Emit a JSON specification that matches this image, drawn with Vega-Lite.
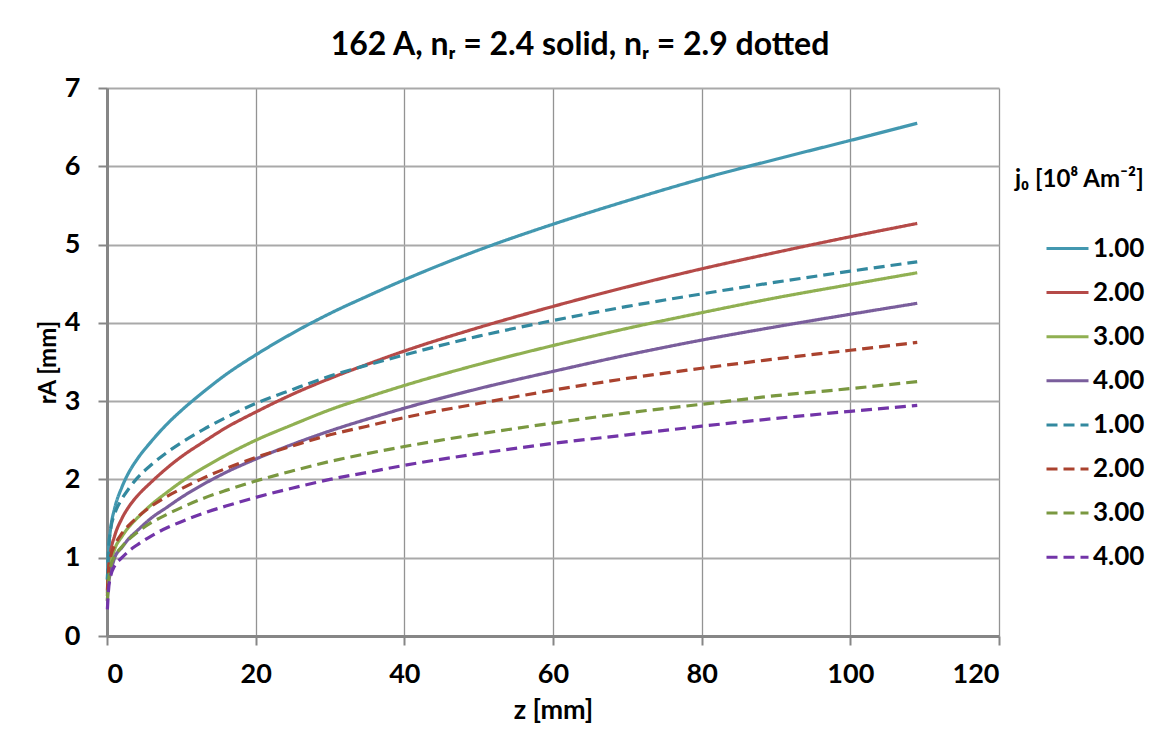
{
  "$schema": "https://vega.github.io/schema/vega-lite/v6.json",
  "width": 892,
  "height": 548,
  "autosize": {"type": "none"},
  "padding": {"left": 107, "top": 88, "right": 159, "bottom": 109},
  "background": "white",
  "config": {"view": {"stroke": null}, "font": "Lato"},
  "title": {"text": "162 A, nᵣ = 2.4 solid, nᵣ = 2.9 dotted", "fontSize": 32, "font": "Lato", "fontWeight": "bold", "color": "black", "offset": 12, "dx": 27},
  "datasets": {
    "curves": [
      {"s":"S1","z":0.05,"r":0.72},{"s":"S1","z":0.2,"r":1.08},{"s":"S1","z":0.5,"r":1.38},{"s":"S1","z":1,"r":1.62},{"s":"S1","z":2,"r":1.90},{"s":"S1","z":3,"r":2.10},{"s":"S1","z":4,"r":2.25},{"s":"S1","z":6,"r":2.49},{"s":"S1","z":8,"r":2.70},{"s":"S1","z":10,"r":2.88},{"s":"S1","z":13,"r":3.12},{"s":"S1","z":16,"r":3.34},{"s":"S1","z":20,"r":3.59},{"s":"S1","z":25,"r":3.87},{"s":"S1","z":30,"r":4.12},{"s":"S1","z":35,"r":4.34},{"s":"S1","z":40,"r":4.55},{"s":"S1","z":50,"r":4.93},{"s":"S1","z":60,"r":5.26},{"s":"S1","z":70,"r":5.56},{"s":"S1","z":80,"r":5.84},{"s":"S1","z":90,"r":6.09},{"s":"S1","z":100,"r":6.33},{"s":"S1","z":109,"r":6.55},
      {"s":"S2","z":0.05,"r":0.51},{"s":"S2","z":0.2,"r":0.82},{"s":"S2","z":0.5,"r":1.08},{"s":"S2","z":1,"r":1.27},{"s":"S2","z":2,"r":1.50},{"s":"S2","z":3,"r":1.66},{"s":"S2","z":4,"r":1.78},{"s":"S2","z":6,"r":1.97},{"s":"S2","z":8,"r":2.14},{"s":"S2","z":10,"r":2.29},{"s":"S2","z":13,"r":2.48},{"s":"S2","z":16,"r":2.66},{"s":"S2","z":20,"r":2.86},{"s":"S2","z":25,"r":3.09},{"s":"S2","z":30,"r":3.29},{"s":"S2","z":35,"r":3.47},{"s":"S2","z":40,"r":3.64},{"s":"S2","z":50,"r":3.94},{"s":"S2","z":60,"r":4.21},{"s":"S2","z":70,"r":4.46},{"s":"S2","z":80,"r":4.69},{"s":"S2","z":90,"r":4.90},{"s":"S2","z":100,"r":5.10},{"s":"S2","z":109,"r":5.27},
      {"s":"S3","z":0.05,"r":0.55},{"s":"S3","z":0.2,"r":0.75},{"s":"S3","z":0.5,"r":0.92},{"s":"S3","z":1,"r":1.10},{"s":"S3","z":2,"r":1.27},{"s":"S3","z":3,"r":1.40},{"s":"S3","z":4,"r":1.50},{"s":"S3","z":6,"r":1.68},{"s":"S3","z":8,"r":1.83},{"s":"S3","z":10,"r":1.97},{"s":"S3","z":13,"r":2.15},{"s":"S3","z":16,"r":2.31},{"s":"S3","z":20,"r":2.50},{"s":"S3","z":25,"r":2.70},{"s":"S3","z":30,"r":2.89},{"s":"S3","z":35,"r":3.05},{"s":"S3","z":40,"r":3.20},{"s":"S3","z":50,"r":3.47},{"s":"S3","z":60,"r":3.71},{"s":"S3","z":70,"r":3.93},{"s":"S3","z":80,"r":4.13},{"s":"S3","z":90,"r":4.32},{"s":"S3","z":100,"r":4.49},{"s":"S3","z":109,"r":4.64},
      {"s":"S4","z":0.05,"r":0.45},{"s":"S4","z":0.2,"r":0.66},{"s":"S4","z":0.5,"r":0.81},{"s":"S4","z":1,"r":0.99},{"s":"S4","z":2,"r":1.13},{"s":"S4","z":3,"r":1.25},{"s":"S4","z":4,"r":1.34},{"s":"S4","z":6,"r":1.51},{"s":"S4","z":8,"r":1.64},{"s":"S4","z":10,"r":1.77},{"s":"S4","z":13,"r":1.94},{"s":"S4","z":16,"r":2.09},{"s":"S4","z":20,"r":2.26},{"s":"S4","z":25,"r":2.45},{"s":"S4","z":30,"r":2.62},{"s":"S4","z":35,"r":2.77},{"s":"S4","z":40,"r":2.91},{"s":"S4","z":50,"r":3.16},{"s":"S4","z":60,"r":3.38},{"s":"S4","z":70,"r":3.59},{"s":"S4","z":80,"r":3.78},{"s":"S4","z":90,"r":3.95},{"s":"S4","z":100,"r":4.11},{"s":"S4","z":109,"r":4.25},
      {"s":"D1","z":0.05,"r":0.72},{"s":"D1","z":0.2,"r":1.08},{"s":"D1","z":0.5,"r":1.37},{"s":"D1","z":1,"r":1.55},{"s":"D1","z":2,"r":1.75},{"s":"D1","z":3,"r":1.89},{"s":"D1","z":4,"r":2.01},{"s":"D1","z":6,"r":2.19},{"s":"D1","z":8,"r":2.34},{"s":"D1","z":10,"r":2.47},{"s":"D1","z":13,"r":2.64},{"s":"D1","z":16,"r":2.79},{"s":"D1","z":20,"r":2.97},{"s":"D1","z":25,"r":3.15},{"s":"D1","z":30,"r":3.32},{"s":"D1","z":35,"r":3.46},{"s":"D1","z":40,"r":3.59},{"s":"D1","z":50,"r":3.83},{"s":"D1","z":60,"r":4.03},{"s":"D1","z":70,"r":4.21},{"s":"D1","z":80,"r":4.37},{"s":"D1","z":90,"r":4.52},{"s":"D1","z":100,"r":4.66},{"s":"D1","z":109,"r":4.78},
      {"s":"D2","z":0.05,"r":0.58},{"s":"D2","z":0.2,"r":0.84},{"s":"D2","z":0.5,"r":1.02},{"s":"D2","z":1,"r":1.15},{"s":"D2","z":2,"r":1.31},{"s":"D2","z":3,"r":1.42},{"s":"D2","z":4,"r":1.51},{"s":"D2","z":6,"r":1.66},{"s":"D2","z":8,"r":1.78},{"s":"D2","z":10,"r":1.88},{"s":"D2","z":13,"r":2.02},{"s":"D2","z":16,"r":2.14},{"s":"D2","z":20,"r":2.28},{"s":"D2","z":25,"r":2.43},{"s":"D2","z":30,"r":2.57},{"s":"D2","z":35,"r":2.68},{"s":"D2","z":40,"r":2.79},{"s":"D2","z":50,"r":2.97},{"s":"D2","z":60,"r":3.14},{"s":"D2","z":70,"r":3.29},{"s":"D2","z":80,"r":3.42},{"s":"D2","z":90,"r":3.54},{"s":"D2","z":100,"r":3.65},{"s":"D2","z":109,"r":3.75},
      {"s":"D3","z":0.05,"r":0.45},{"s":"D3","z":0.2,"r":0.68},{"s":"D3","z":0.5,"r":0.89},{"s":"D3","z":1,"r":1.01},{"s":"D3","z":2,"r":1.14},{"s":"D3","z":3,"r":1.24},{"s":"D3","z":4,"r":1.32},{"s":"D3","z":6,"r":1.45},{"s":"D3","z":8,"r":1.55},{"s":"D3","z":10,"r":1.64},{"s":"D3","z":13,"r":1.76},{"s":"D3","z":16,"r":1.86},{"s":"D3","z":20,"r":1.98},{"s":"D3","z":25,"r":2.11},{"s":"D3","z":30,"r":2.23},{"s":"D3","z":35,"r":2.33},{"s":"D3","z":40,"r":2.42},{"s":"D3","z":50,"r":2.58},{"s":"D3","z":60,"r":2.72},{"s":"D3","z":70,"r":2.85},{"s":"D3","z":80,"r":2.96},{"s":"D3","z":90,"r":3.07},{"s":"D3","z":100,"r":3.16},{"s":"D3","z":109,"r":3.25},
      {"s":"D4","z":0.05,"r":0.34},{"s":"D4","z":0.2,"r":0.58},{"s":"D4","z":0.5,"r":0.77},{"s":"D4","z":1,"r":0.89},{"s":"D4","z":2,"r":1.00},{"s":"D4","z":3,"r":1.09},{"s":"D4","z":4,"r":1.16},{"s":"D4","z":6,"r":1.28},{"s":"D4","z":8,"r":1.38},{"s":"D4","z":10,"r":1.46},{"s":"D4","z":13,"r":1.57},{"s":"D4","z":16,"r":1.66},{"s":"D4","z":20,"r":1.77},{"s":"D4","z":25,"r":1.89},{"s":"D4","z":30,"r":2.00},{"s":"D4","z":35,"r":2.09},{"s":"D4","z":40,"r":2.18},{"s":"D4","z":50,"r":2.33},{"s":"D4","z":60,"r":2.46},{"s":"D4","z":70,"r":2.57},{"s":"D4","z":80,"r":2.68},{"s":"D4","z":90,"r":2.78},{"s":"D4","z":100,"r":2.87},{"s":"D4","z":109,"r":2.945}
    ]
  },
  "data": {"name": "curves"},
  "mark": {"type": "line", "strokeWidth": 3.2, "interpolate": "monotone", "strokeCap": "butt"},
  "encoding": {
    "x": {
      "field": "z", "type": "quantitative",
      "scale": {"domain": [0, 120], "nice": false},
      "axis": {
        "title": "z [mm]", "values": [0, 20, 40, 60, 80, 100, 120], "format": "d",
        "titleFont": "Lato", "titleFontSize": 27, "titleFontWeight": "bold", "titleColor": "black", "titlePadding": 10,
        "labelFont": "Lato", "labelFontSize": 27, "labelFontWeight": "bold", "labelColor": "black", "labelPadding": 16,
        "tickSize": 9, "tickColor": "#868686", "tickWidth": 2,
        "domainColor": "#868686", "domainWidth": 3,
        "grid": true, "gridColor": "#939393", "gridWidth": 1.3
      }
    },
    "y": {
      "field": "r", "type": "quantitative",
      "scale": {"domain": [0, 7], "nice": false},
      "axis": {
        "title": "rA [mm]", "values": [0, 1, 2, 3, 4, 5, 6, 7], "format": "d",
        "titleFont": "Lato", "titleFontSize": 24, "titleFontWeight": "bold", "titleColor": "black", "titlePadding": 4,
        "labelFont": "Lato", "labelFontSize": 27, "labelFontWeight": "bold", "labelColor": "black", "labelPadding": 18,
        "tickSize": 9, "tickColor": "#868686", "tickWidth": 2,
        "domainColor": "#868686", "domainWidth": 3,
        "grid": true, "gridColor": "#a9a9a9", "gridWidth": 2
      }
    },
    "color": {
      "field": "s", "type": "nominal",
      "scale": {
        "domain": ["S1", "S2", "S3", "S4", "D1", "D2", "D3", "D4"],
        "range": ["#4398B0", "#B54A48", "#90B052", "#7A5E9C", "#33899F", "#AA422E", "#7A9840", "#7234A8"]
      },
      "legend": {
        "title": "j₀ [10⁸ Am⁻²]", "orient": "none", "legendX": 908, "legendY": 80,
        "titleFont": "Lato", "titleFontSize": 24, "titleFontWeight": "bold", "titleColor": "black", "titlePadding": 34,
        "labelFont": "Lato", "labelFontSize": 26, "labelFontWeight": "bold", "labelColor": "black",
        "labelExpr": "substring(datum.label, 1) + '.00'",
        "symbolType": "stroke", "symbolSize": 1764, "symbolStrokeWidth": 3, "symbolOffset": 30,
        "rowPadding": 8.1, "labelOffset": 3
      }
    },
    "strokeDash": {
      "field": "s", "type": "nominal",
      "scale": {
        "domain": ["S1", "S2", "S3", "S4", "D1", "D2", "D3", "D4"],
        "range": [[1, 0], [1, 0], [1, 0], [1, 0], [11, 6], [11, 6], [11, 6], [11, 6]]
      },
      "legend": {
        "title": "j₀ [10⁸ Am⁻²]", "orient": "none", "legendX": 908, "legendY": 80,
        "titleFont": "Lato", "titleFontSize": 24, "titleFontWeight": "bold", "titleColor": "black", "titlePadding": 34,
        "labelFont": "Lato", "labelFontSize": 26, "labelFontWeight": "bold", "labelColor": "black",
        "labelExpr": "substring(datum.label, 1) + '.00'",
        "symbolType": "stroke", "symbolSize": 1764, "symbolStrokeWidth": 3, "symbolOffset": 30,
        "rowPadding": 8.1, "labelOffset": 3
      }
    }
  }
}
